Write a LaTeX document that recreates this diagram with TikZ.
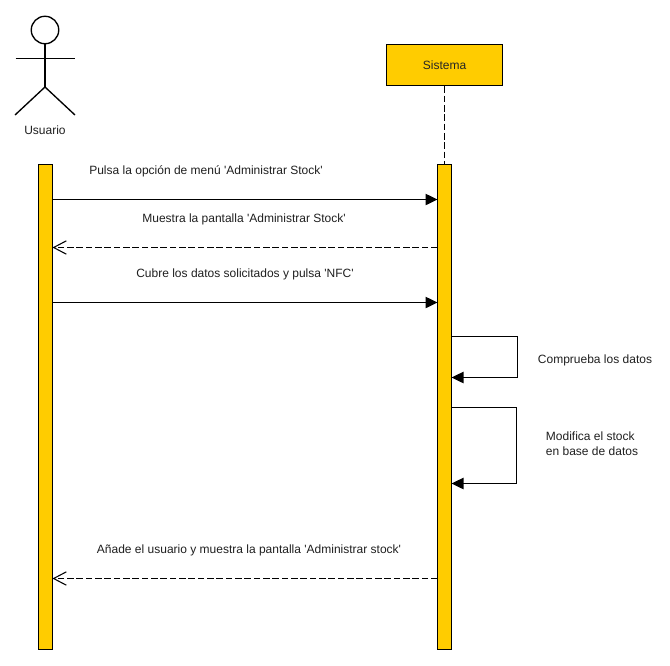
\documentclass[tikz,border=0pt]{standalone}
\usepackage{fontspec}
\newfontfamily\labelfont{Liberation Sans}
\usetikzlibrary{arrows.meta,positioning}
\definecolor{barfill}{HTML}{FFCC00}
\tikzset{
  barnode/.style={draw=black,fill=barfill,line width=1pt,inner sep=0pt,minimum width=10.5pt,minimum height=363.75pt},
  msgcall/.style={line width=1pt,-{Triangle[length=9pt,width=8.5pt]}},
  msgback/.style={line width=1pt,dash pattern=on 5pt off 2pt,-{Straight Barb[length=9.5pt,width=10pt,line width=.8pt]}},
  msglabel/.style={inner sep=0pt,text=black!88}
}
\begin{document}
\begin{tikzpicture}[x=.75pt,y=-.75pt,every node/.style={font=\labelfont\fontsize{9pt}{11.2pt}\selectfont}]
\useasboundingbox (0,0) rectangle (670,665);
% actor
\node[draw,circle,line width=1pt,inner sep=0pt,minimum size=20.6pt] (head) at (45,30) {};
\coordinate (hip) at (45,87);
\coordinate (armL) at (15.5,58.5);
\coordinate (armR) at (75,58.5);
\coordinate (footL) at (15,115);
\coordinate (footR) at (75,115);
\draw[line width=1pt] (head.south)--(hip);
\draw[line width=1pt] (armL)--(armR);
\draw[line width=1pt] (footL)--(hip)--(footR);
\node[msglabel] (usuario) at (45,130) {Usuario};
% lifelines
\node[draw=black,fill=barfill,line width=1pt,inner sep=0pt,minimum width=87pt,minimum height=30.75pt,text=black!85] (sistema) at (444.5,65) {Sistema};
\node[barnode] (barU) at (45.5,407) {};
\node[barnode] (barS) at (444.5,407) {};
\draw[line width=1pt,dash pattern=on 5pt off 2pt] (sistema.south)--(barS.north);
% end points
\coordinate (u1) at (52.5,199.5);\coordinate (s1) at (437.5,199.5);
\coordinate (u2) at (52.5,247.5);\coordinate (s2) at (437.5,247.5);
\coordinate (u3) at (52.5,302.5);\coordinate (s3) at (437.5,302.5);
\coordinate (u4) at (52.5,578.5);\coordinate (s4) at (437.5,578.5);
\coordinate (a1) at (451.5,336.5);\coordinate (a2) at (517.5,336.5);
\coordinate (a3) at (517.5,377.5);\coordinate (a4) at (451.5,377.5);
\coordinate (b1) at (451.5,407.5);\coordinate (b2) at (516.5,407.5);
\coordinate (b3) at (516.5,483.5);\coordinate (b4) at (451.5,483.5);
% messages
\draw[msgcall] (u1)--(s1);
\draw[msgback] (s2)--(u2);
\draw[msgcall] (u3)--(s3);
\draw[msgcall] (a1)--(a2)--(a3)--(a4);
\draw[msgcall] (b1)--(b2)--(b3)--(b4);
\draw[msgback] (s4)--(u4);
% labels
\node[msglabel] (pulsa) at (206,171) {Pulsa la opción de menú 'Administrar Stock'};
\node[msglabel] (muestra) at (244,219) {Muestra la pantalla 'Administrar Stock'};
\node[msglabel] (cubre) at (245,274) {Cubre los datos solicitados y pulsa 'NFC'};
\node[msglabel] (comprueba) at (595,360) {Comprueba los datos};
\node[msglabel,align=left] (modifica) at (592,444) {Modifica el stock\\en base de datos};
\node[msglabel] (anade) at (249,550) {Añade el usuario y muestra la pantalla 'Administrar stock'};
\end{tikzpicture}
\end{document}
